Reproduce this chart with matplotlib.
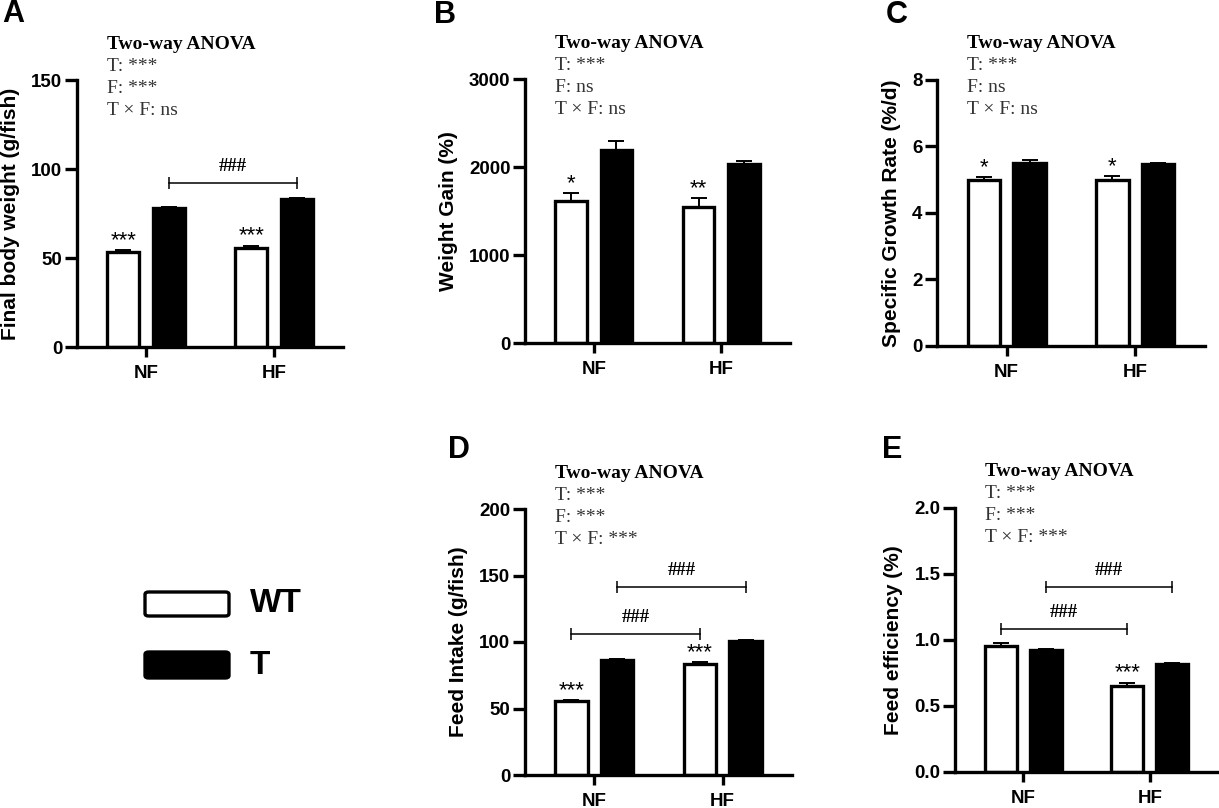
import numpy as np
import matplotlib.pyplot as plt
from matplotlib.patches import FancyBboxPatch

plt.rcParams['font.family'] = ['Liberation Sans', 'DejaVu Sans']
plt.rcParams['font.weight'] = 'bold'

groups = ["NF", "HF"]

# A  final body weight
fbw_wt = [53.5, 55.8]
fbw_wt_err = [1.0, 1.2]
fbw_t = [78.0, 83.0]
fbw_t_err = [0.4, 0.6]

# B  weight gain
wg_wt = [1615, 1545]
wg_wt_err = [90, 100]
wg_t = [2195, 2035]
wg_t_err = [100, 35]

# C  specific growth rate
sgr_wt = [4.99, 5.00]
sgr_wt_err = [0.09, 0.12]
sgr_t = [5.50, 5.47]
sgr_t_err = [0.09, 0.03]

# D  feed intake
fi_wt = [56.0, 83.7]
fi_wt_err = [0.6, 1.0]
fi_t = [86.6, 101.0]
fi_t_err = [0.8, 0.3]

# E  feed efficiency
fe_wt = [0.955, 0.655]
fe_wt_err = [0.02, 0.022]
fe_t = [0.922, 0.82]
fe_t_err = [0.012, 0.006]

W, H = 1219, 808
fig = plt.figure(figsize=(W / 100, H / 100), dpi=100)


def make_ax(l, t, r, b):
    return fig.add_axes([l / W, 1 - b / H, (r - l) / W, (b - t) / H])


def panel(ax, wt, wt_err, t, t_err, ymax, yticks, ylabel, stars, anova, brackets):
    x = np.arange(len(groups))
    off = 0.178
    ax.errorbar(x - off, wt, yerr=[np.zeros(2), wt_err], fmt='none', ecolor='black',
                elinewidth=1.4, capsize=6, capthick=1.4, zorder=1)
    ax.errorbar(x + off, t, yerr=[np.zeros(2), t_err], fmt='none', ecolor='black',
                elinewidth=1.4, capsize=6, capthick=1.4, zorder=1)
    ax.bar(x - off, wt, width=0.25, facecolor='white', edgecolor='black', linewidth=2.4, zorder=2)
    ax.bar(x + off, t, width=0.25, facecolor='black', edgecolor='black', linewidth=2.4, zorder=2)

    for i, s in enumerate(stars):
        if s:
            ax.annotate(s, (x[i] - off, wt[i] + wt_err[i]), xytext=(0, -1),
                        textcoords='offset pixels', ha='center', va='bottom',
                        fontsize=16, fontweight='normal', annotation_clip=False)

    for x0, x1, y in brackets:
        ax.plot([x0, x1], [y, y], color='black', lw=1.1, clip_on=False)
        ax.plot([x0, x1], [y, y], ls='none', marker='|', markersize=9, mew=1.1,
                color='black', clip_on=False)
        ax.annotate("###", ((x0 + x1) / 2, y), xytext=(0, 17), textcoords='offset pixels',
                    ha='center', va='center', fontsize=13.5, fontweight='bold',
                    family='Liberation Serif', annotation_clip=False)

    ax.annotate("Two-way ANOVA", (0.113, 1), xycoords='axes fraction', xytext=(0, 36),
                textcoords='offset pixels', ha='left', va='center', fontsize=14,
                fontweight='bold', family='Liberation Serif', color='black')
    for k, line in enumerate(anova):
        ax.annotate(line, (0.113, 1), xycoords='axes fraction', xytext=(0, 14 - 22 * k),
                    textcoords='offset pixels', ha='left', va='center', fontsize=14,
                    fontweight='normal', family='Liberation Serif', color='#333333')

    ax.set_xlim(-0.54, 1.54)
    ax.set_ylim(0, ymax)
    ax.set_yticks(yticks)
    ax.set_xticks(x)
    ax.set_xticklabels(groups)
    ax.set_ylabel(ylabel, fontsize=15, fontweight='bold', labelpad=8)
    for sp in ['top', 'right']:
        ax.spines[sp].set_visible(False)
    for sp in ['left', 'bottom']:
        ax.spines[sp].set_linewidth(2.4)
    ax.tick_params(axis='y', length=8.5, width=2.4, labelsize=13.5, pad=2)
    ax.tick_params(axis='x', length=7, width=2.4, labelsize=13.5, pad=6)


axA = make_ax(77, 80, 343, 347)
panel(axA, fbw_wt, fbw_wt_err, fbw_t, fbw_t_err, 150, [0, 50, 100, 150],
      "Final body weight (g/fish)", ["***", "***"],
      ["T: ***", "F: ***", "T × F: ns"], [(0.178, 1.178, 92)])

axB = make_ax(525, 79, 790, 343)
panel(axB, wg_wt, wg_wt_err, wg_t, wg_t_err, 3000, [0, 1000, 2000, 3000],
      "Weight Gain (%)", ["*", "**"],
      ["T: ***", "F: ns", "T × F: ns"], [])

axC = make_ax(937, 80, 1205, 346)
panel(axC, sgr_wt, sgr_wt_err, sgr_t, sgr_t_err, 8, [0, 2, 4, 6, 8],
      "Specific Growth Rate (%/d)", ["*", "*"],
      ["T: ***", "F: ns", "T × F: ns"], [])

axD = make_ax(525, 509, 792, 775)
panel(axD, fi_wt, fi_wt_err, fi_t, fi_t_err, 200, [0, 50, 100, 150, 200],
      "Feed Intake (g/fish)", ["***", "***"],
      ["T: ***", "F: ***", "T × F: ***"], [(-0.178, 0.822, 106), (0.178, 1.178, 141)])

axE = make_ax(955, 508, 1218, 772)
panel(axE, fe_wt, fe_wt_err, fe_t, fe_t_err, 2.0, [0.0, 0.5, 1.0, 1.5, 2.0],
      "Feed efficiency (%)", ["", "***"],
      ["T: ***", "F: ***", "T × F: ***"], [(-0.178, 0.822, 1.08), (0.178, 1.178, 1.40)])
axE.set_yticklabels(["0.0", "0.5", "1.0", "1.5", "2.0"])

# panel letters
for lab, px, py in [("A", 2, 14), ("B", 434, 15), ("C", 886, 15), ("D", 448, 450), ("E", 882, 450)]:
    fig.text(px / W, 1 - py / H, lab, fontsize=22, fontweight='bold', ha='left', va='center')

# legend
for (top, bot), fc, name in [((591, 617), 'white', "WT"), ((651, 679), 'black', "T")]:
    box = FancyBboxPatch((145 / W, 1 - (bot - 1) / H), 84 / W, (bot - top - 2) / H,
                         boxstyle="round,pad=0,rounding_size=0.003",
                         transform=fig.transFigure, facecolor=fc, edgecolor='black',
                         linewidth=2.4)
    fig.patches.append(box)
    fig.text(250 / W, 1 - (top + bot) / 2 / H, name, fontsize=24, fontweight='bold',
             ha='left', va='center')

fig.savefig("out.png", dpi=100)
